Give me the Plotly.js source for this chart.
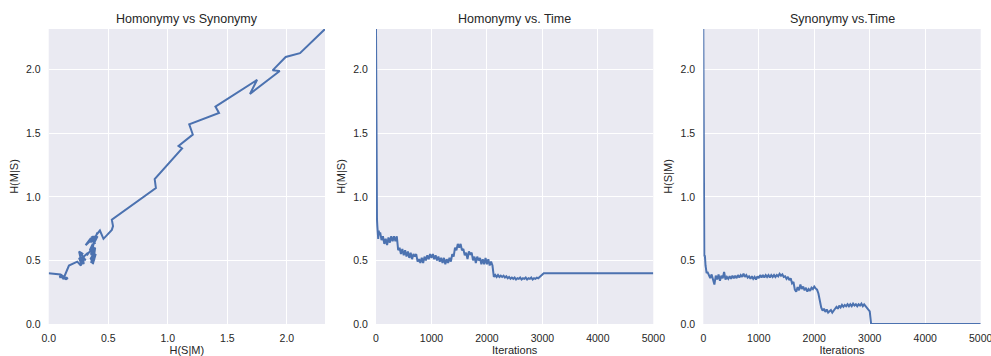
<!DOCTYPE html>
<html>
<head>
<meta charset="utf-8">
<script src="https://cdn.plot.ly/plotly-3.0.1.min.js"></script>
<style>html,body{margin:0;padding:0;background:#fff;}#chart{width:991px;height:356px;}</style>
</head>
<body>
<div id="chart"></div>
<script>
// Iteration index of each sample
const iterations = [
  0,1,2,3,4,5,6,7,8,9,10,11,12,13,14,18,24,30,40,50,60,
  75,100,125,150,175,200,225,250,275,300,
  325,350,375,400,425,450,475,500,525,550,
  575,600,625,650,675,700,725,750,775,800,
  825,850,875,900,925,950,975,1000,1025,1050,
  1075,1100,1125,1150,1175,1200,1225,1250,1275,1300,
  1325,1350,1375,1400,1425,1450,1475,1500,1525,1550,
  1575,1600,1625,1650,1675,1700,1725,1750,1775,1800,
  1825,1850,1875,1900,1925,1950,1975,2000,2025,2050,
  2075,2100,2125,2150,2175,2200,2225,2250,2275,2300,
  2325,2350,2375,2400,2425,2450,2475,2500,2525,2550,
  2575,2600,2625,2650,2675,2700,2725,2750,2775,2800,
  2825,2850,2875,2900,2925,2950,2975,3000,
  3025,5000
];
// Homonymy H(M|S)
const homonymy = [
  2.32,2.13,2.10,1.995,1.99,1.81,1.92,1.71,1.66,1.57,1.49,1.40,1.38,1.14,1.07,0.82,0.77,0.74,0.67,0.735,0.70,
  0.72,0.66,0.69,0.63,0.67,0.62,0.68,0.64,0.69,0.65,
  0.69,0.65,0.69,0.58,0.60,0.55,0.59,0.54,0.58,0.53,
  0.57,0.52,0.56,0.51,0.55,0.53,0.55,0.49,0.51,0.48,
  0.52,0.48,0.53,0.50,0.54,0.51,0.55,0.52,0.55,0.51,
  0.54,0.50,0.53,0.49,0.52,0.48,0.52,0.47,0.51,0.48,
  0.52,0.49,0.55,0.53,0.60,0.58,0.63,0.60,0.63,0.58,
  0.59,0.54,0.56,0.51,0.57,0.55,0.56,0.50,0.53,0.48,
  0.53,0.50,0.52,0.47,0.51,0.47,0.52,0.47,0.51,0.46,
  0.49,0.46,0.37,0.385,0.37,0.385,0.37,0.38,0.37,0.38,
  0.365,0.375,0.36,0.37,0.355,0.365,0.355,0.365,0.35,0.36,
  0.355,0.365,0.35,0.36,0.355,0.365,0.35,0.36,0.355,0.365,
  0.35,0.36,0.355,0.365,0.36,0.37,0.38,0.39,
  0.40,0.40
];
// Synonymy H(S|M)
const synonymy = [
  2.32,2.11,1.99,1.88,1.94,1.69,1.75,1.40,1.43,1.18,1.21,1.09,1.12,0.89,0.90,0.53,0.54,0.53,0.46,0.43,0.40,
  0.41,0.38,0.36,0.39,0.35,0.31,0.38,0.35,0.39,0.34,
  0.38,0.36,0.41,0.35,0.37,0.355,0.375,0.355,0.38,0.36,
  0.38,0.36,0.385,0.365,0.385,0.37,0.395,0.37,0.385,0.365,
  0.375,0.355,0.375,0.355,0.37,0.35,0.375,0.36,0.385,0.365,
  0.385,0.365,0.385,0.37,0.385,0.365,0.385,0.37,0.385,0.37,
  0.385,0.375,0.395,0.38,0.39,0.37,0.375,0.355,0.37,0.345,
  0.36,0.32,0.33,0.27,0.255,0.29,0.265,0.31,0.275,0.295,
  0.265,0.285,0.255,0.275,0.26,0.285,0.275,0.295,0.28,0.27,
  0.24,0.17,0.13,0.105,0.12,0.095,0.115,0.09,0.105,0.11,
  0.09,0.11,0.12,0.135,0.12,0.145,0.13,0.15,0.135,0.15,
  0.14,0.155,0.14,0.155,0.14,0.16,0.145,0.155,0.14,0.155,
  0.145,0.16,0.14,0.155,0.14,0.13,0.11,0.10,
  0,0
];
const titles = ['Homonymy vs Synonymy', 'Homonymy vs. Time', 'Synonymy vs.Time'];
const xTitles = ['H(S|M)', 'Iterations', 'Iterations'];
const yTitles = ['H(M|S)', 'H(M|S)', 'H(S|M)'];

const lineStyle = {color: '#4C72B0', width: 2};
const traces = [
  {x: synonymy, y: homonymy, type: 'scatter', mode: 'lines', line: lineStyle, xaxis: 'x', yaxis: 'y', hoverinfo: 'skip'},
  {x: iterations, y: homonymy, type: 'scatter', mode: 'lines', line: lineStyle, xaxis: 'x2', yaxis: 'y2', hoverinfo: 'skip'},
  {x: iterations, y: synonymy, type: 'scatter', mode: 'lines', line: lineStyle, xaxis: 'x3', yaxis: 'y3', hoverinfo: 'skip'}
];

const W = 991;
const domains = [[48.7 / W, 325 / W], [376 / W, 653.3 / W], [703.3 / W, 980.7 / W]];
const textColor = '#262626';
function xAxis(i, range, dtick, fmt) {
  return {
    domain: domains[i], range: range, dtick: dtick, tick0: 0, tickformat: fmt,
    showgrid: true, gridcolor: '#ffffff', gridwidth: 1.1, zeroline: false, showline: false,
    ticks: 'outside', ticklen: 4, tickcolor: 'rgba(0,0,0,0)', ticklabeloverflow: 'allow',
    tickfont: {size: 10.5, color: textColor}, automargin: false, anchor: i === 0 ? 'y' : 'y' + (i + 1),
    title: {text: xTitles[i], font: {size: 11, color: textColor}, standoff: 4}
  };
}
function yAxis(i) {
  return {
    domain: [0, 1], range: [0, 2.32], dtick: 0.5, tick0: 0, tickformat: '.1f',
    showgrid: true, gridcolor: '#ffffff', gridwidth: 1.1, zeroline: false, showline: false,
    ticks: 'outside', ticklen: 5, tickcolor: 'rgba(0,0,0,0)', ticklabeloverflow: 'allow',
    tickfont: {size: 10.5, color: textColor}, automargin: false, anchor: i === 0 ? 'x' : 'x' + (i + 1),
    title: {text: yTitles[i], font: {size: 11, color: textColor}, standoff: 5}
  };
}
const layout = {
  width: 991, height: 356,
  margin: {l: 0, r: 0, t: 29, b: 32, pad: 0},
  paper_bgcolor: '#ffffff', plot_bgcolor: '#EAEAF2',
  font: {family: 'Liberation Sans, Arial, sans-serif', color: textColor, size: 10.5},
  showlegend: false,
  xaxis: xAxis(0, [0, 2.32], 0.5, '.1f'),
  xaxis2: xAxis(1, [0, 5000], 1000, 'd'),
  xaxis3: xAxis(2, [0, 5000], 1000, 'd'),
  yaxis: yAxis(0), yaxis2: yAxis(1), yaxis3: yAxis(2),
  annotations: titles.map((t, i) => ({
    text: t, xref: 'paper', yref: 'paper', x: (domains[i][0] + domains[i][1]) / 2, y: 1,
    xanchor: 'center', yanchor: 'bottom', yshift: 1, showarrow: false,
    font: {size: 12.5, color: textColor}
  }))
};
Plotly.newPlot('chart', traces, layout, {staticPlot: true, displayModeBar: false});
</script>
</body>
</html>
